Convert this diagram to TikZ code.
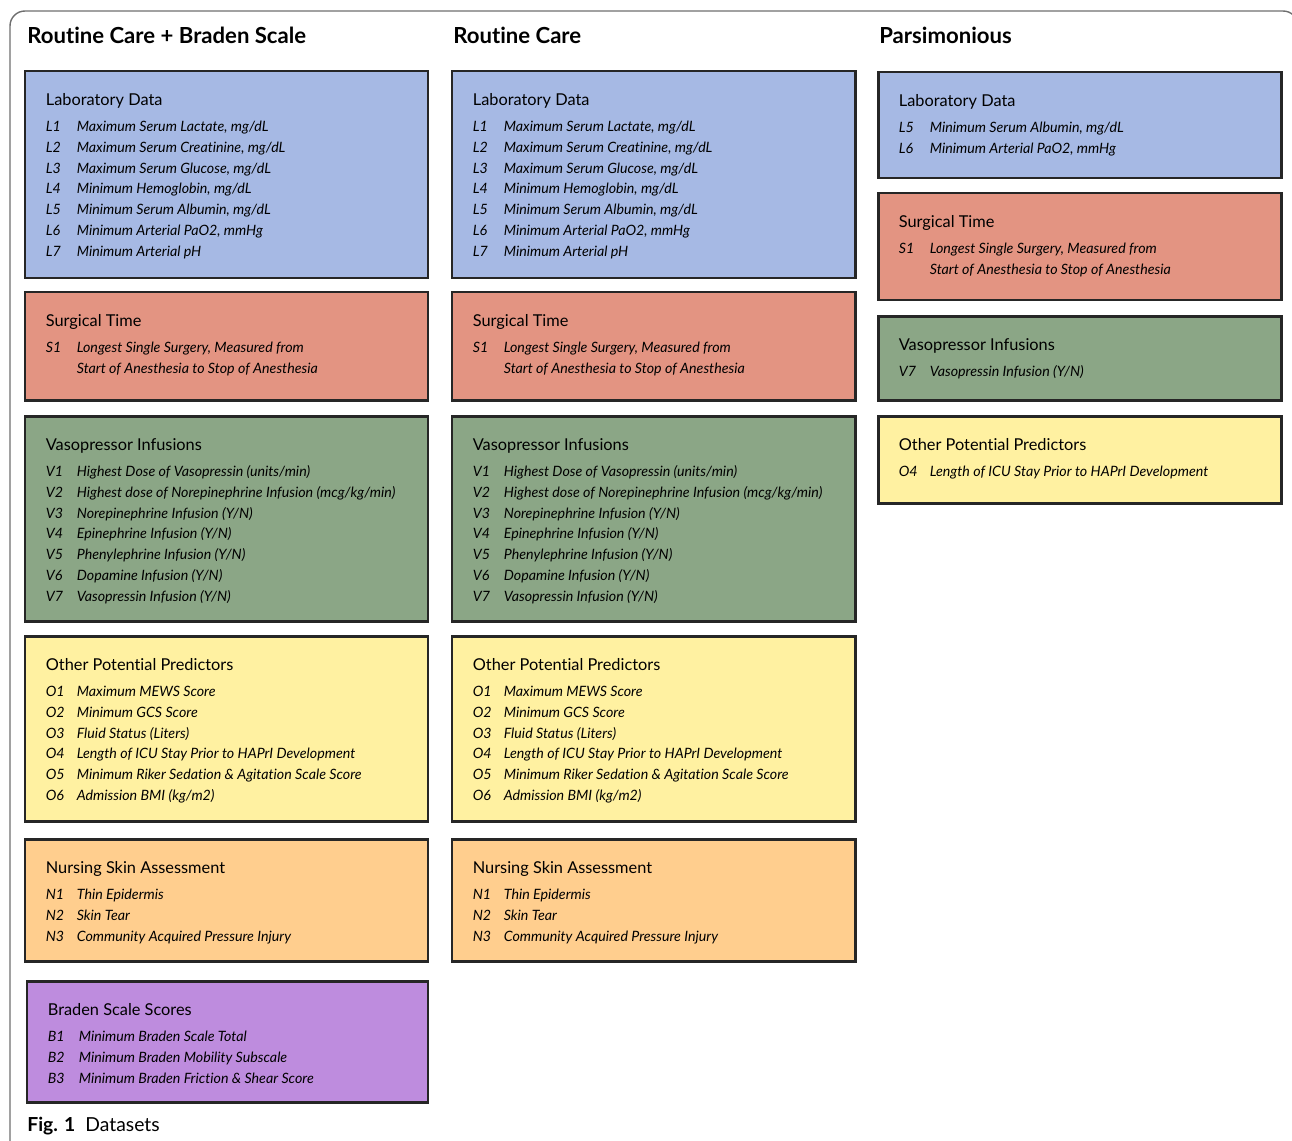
\documentclass[tikz,border=0pt]{standalone}
\usepackage{fontspec}
\setmainfont{Lato}[Ligatures=NoCommon]
\usetikzlibrary{fit}
\definecolor{LabBlue}{RGB}{166,185,228}
\definecolor{SurgSalmon}{RGB}{227,148,130}
\definecolor{VasoGreen}{RGB}{139,166,134}
\definecolor{OtherYellow}{RGB}{255,241,161}
\definecolor{NurseOrange}{RGB}{255,206,142}
\definecolor{BradenPurple}{RGB}{190,140,222}
\definecolor{FrameGrey}{RGB}{110,110,110}
\newcommand{\titlefont}{\fontsize{12.6}{15}\selectfont\bfseries}
\newcommand{\headfont}{\fontsize{9.3}{11}\selectfont}
\newcommand{\itemfont}{\fontsize{8.1}{11.9}\selectfont}
\newcommand{\itm}[2]{\makebox[0.62cm][l]{\itshape #1}{\itshape #2}\\}
\newcommand{\head}[1]{{\headfont #1}\\[3pt]}
\tikzset{
  databox/.style={draw=black!85,line width=1.7pt,inner sep=0pt},
  boxtext/.style={anchor=base west,inner sep=0pt,font=\itemfont},
  coltitle/.style={anchor=base west,inner sep=0pt,font=\titlefont},
  frame/.style={draw=FrameGrey,line width=0.8pt,rounded corners=8.5pt}
}
% box: name, left, top, right, bottom, fill, rows
\newcommand{\databox}[7]{%
  \node[databox,fill=#6,fit={(#2,-#3) (#4,-#5)}] (#1) {};
  \node[boxtext] (#1-txt) at ([shift={(22,-35.5)}]#1.north west)
    {\begin{tabular}[t]{@{}l@{}}#7\end{tabular}};}
% shared contents of the two full columns
\newcommand{\labrows}{\head{Laboratory Data}
  \itm{L1}{Maximum Serum Lactate, mg/dL}
  \itm{L2}{Maximum Serum Creatinine, mg/dL}
  \itm{L3}{Maximum Serum Glucose, mg/dL}
  \itm{L4}{Minimum Hemoglobin, mg/dL}
  \itm{L5}{Minimum Serum Albumin, mg/dL}
  \itm{L6}{Minimum Arterial PaO2, mmHg}
  \itm{L7}{Minimum Arterial pH}}
\newcommand{\surgrows}{\head{Surgical Time}
  \itm{S1}{Longest Single Surgery, Measured from}
  \itm{}{Start of Anesthesia to Stop of Anesthesia}}
\newcommand{\vasorows}{\head{Vasopressor Infusions}
  \itm{V1}{Highest Dose of Vasopressin (units/min)}
  \itm{V2}{Highest dose of Norepinephrine Infusion (mcg/kg/min)}
  \itm{V3}{Norepinephrine Infusion (Y/N)}
  \itm{V4}{Epinephrine Infusion (Y/N)}
  \itm{V5}{Phenylephrine Infusion (Y/N)}
  \itm{V6}{Dopamine Infusion (Y/N)}
  \itm{V7}{Vasopressin Infusion (Y/N)}}
\newcommand{\otherrows}{\head{Other Potential Predictors}
  \itm{O1}{Maximum MEWS Score}
  \itm{O2}{Minimum GCS Score}
  \itm{O3}{Fluid Status (Liters)}
  \itm{O4}{Length of ICU Stay Prior to HAPrI Development}
  \itm{O5}{Minimum Riker Sedation \& Agitation Scale Score}
  \itm{O6}{Admission BMI (kg/m2)}}
\newcommand{\nurserows}{\head{Nursing Skin Assessment}
  \itm{N1}{Thin Epidermis}
  \itm{N2}{Skin Tear}
  \itm{N3}{Community Acquired Pressure Injury}}

\begin{document}
\begin{tikzpicture}[x=0.02cm,y=0.02cm]
  \useasboundingbox (0,0) rectangle (1292,-1140);
  \clip (0,0) rectangle (1292,-1140);
  \draw[frame] (10,-11) rectangle (1298,-1170);

  % column titles
  \node[coltitle] (titleA) at (27,-43) {Routine Care + Braden Scale};
  \node[coltitle] (titleB) at (453,-43) {Routine Care};
  \node[coltitle] (titleC) at (879,-43) {Parsimonious};

  % routine care + braden scale
  \databox{labA}{25}{71}{428}{278}{LabBlue}{\labrows}
  \databox{surgA}{25}{292}{428}{400}{SurgSalmon}{\surgrows}
  \databox{vasoA}{25}{416}{428}{621}{VasoGreen}{\vasorows}
  \databox{otherA}{25}{636}{428}{821}{OtherYellow}{\otherrows}
  \databox{nurseA}{25}{839}{428}{961}{NurseOrange}{\nurserows}
  \databox{bradenA}{27}{981}{428}{1102}{BradenPurple}{\head{Braden Scale Scores}
    \itm{B1}{Minimum Braden Scale Total}
    \itm{B2}{Minimum Braden Mobility Subscale}
    \itm{B3}{Minimum Braden Friction \& Shear Score}}

  % routine care
  \databox{labB}{452}{71}{855}{278}{LabBlue}{\labrows}
  \databox{surgB}{452}{292}{855}{400}{SurgSalmon}{\surgrows}
  \databox{vasoB}{452}{416}{855}{621}{VasoGreen}{\vasorows}
  \databox{otherB}{452}{636}{855}{821}{OtherYellow}{\otherrows}
  \databox{nurseB}{452}{839}{855}{961}{NurseOrange}{\nurserows}

  % parsimonious
  \databox{labC}{878}{72}{1281}{178}{LabBlue}{\head{Laboratory Data}
    \itm{L5}{Minimum Serum Albumin, mg/dL}
    \itm{L6}{Minimum Arterial PaO2, mmHg}}
  \databox{surgC}{878}{193}{1281}{300}{SurgSalmon}{\surgrows}
  \databox{vasoC}{878}{316}{1281}{400}{VasoGreen}{\head{Vasopressor Infusions}
    \itm{V7}{Vasopressin Infusion (Y/N)}}
  \databox{otherC}{878}{416}{1281}{503}{OtherYellow}{\head{Other Potential Predictors}
    \itm{O4}{Length of ICU Stay Prior to HAPrI Development}}

  \node[anchor=base west,inner sep=0pt,font=\fontsize{11}{13}\selectfont] (caption)
    at (27,-1131) {\textbf{Fig. 1}\hspace{0.2cm}Datasets};
\end{tikzpicture}
\end{document}
